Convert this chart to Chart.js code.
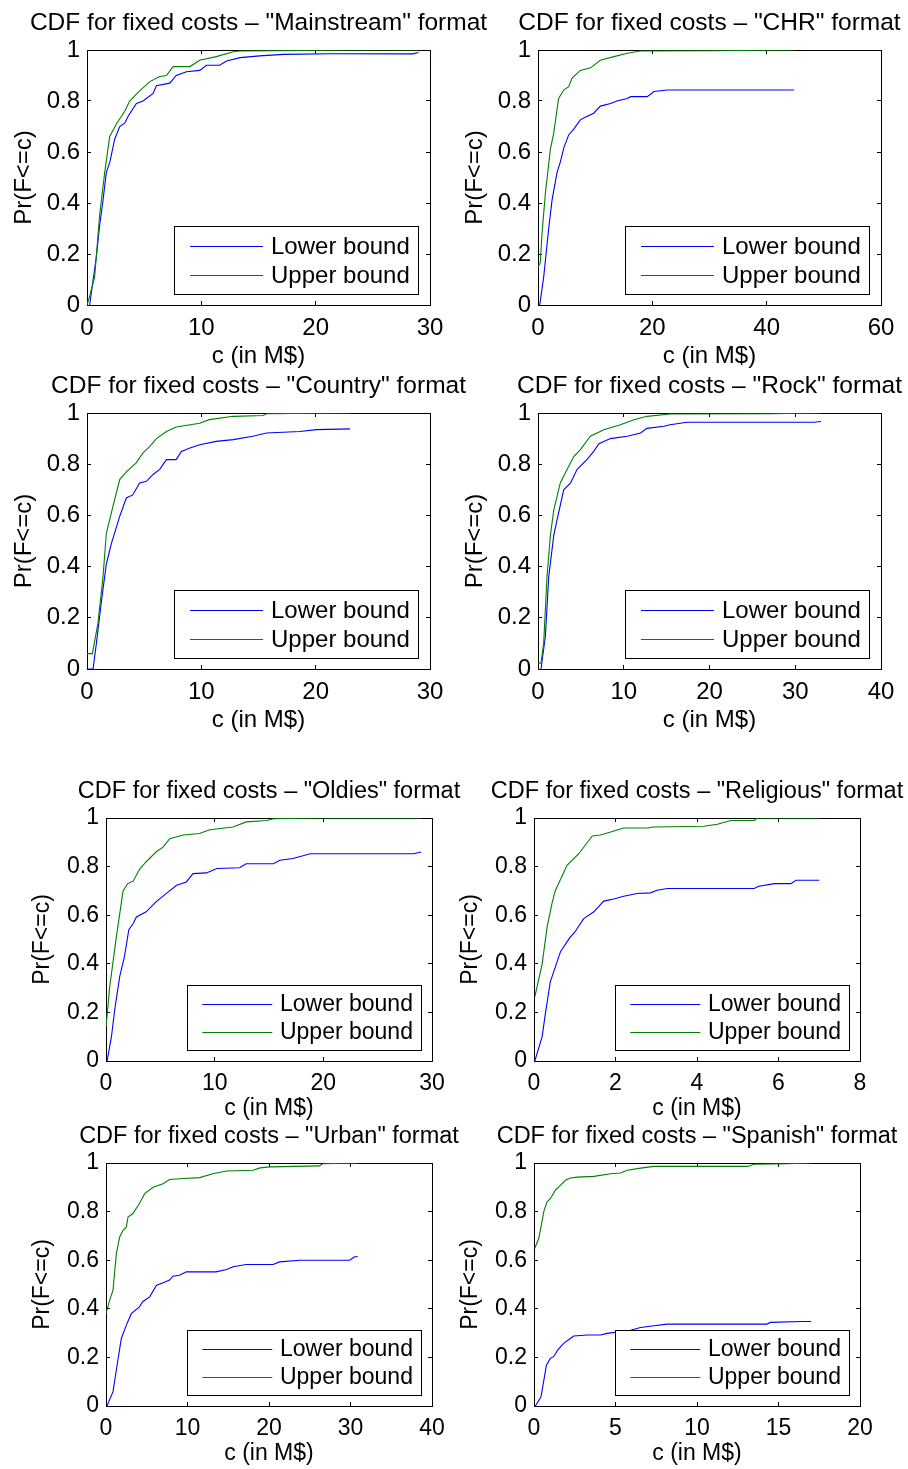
<!DOCTYPE html>
<html lang="en">
<head>
    <meta charset="UTF-8">
    <title>CDF for fixed costs</title>
    <script src="https://cdn.jsdelivr.net/npm/chart.js"></script>
    <style>
        body {
            margin: 0;
            background: #fff;
            width: 908px;
            height: 1469px;
            overflow: hidden;
            position: relative;
        }
        canvas {
            position: absolute;
        }
    </style>
</head>
<body>
<script>
    // ---- values ----
    const formats = ['Mainstream', 'CHR', 'Country', 'Rock', 'Oldies', 'Religious', 'Urban', 'Spanish'];
    const xMax = [30, 60, 30, 40, 30, 8, 40, 20];
    const xStep = [10, 20, 10, 10, 10, 2, 10, 5];
    const seriesLabels = ['Lower bound', 'Upper bound'];

    // [c, Pr(F<=c)] pairs
    const mainstreamLower = [[0.23,0],[0.82,0.19],[1.1,0.31],[1.4,0.41],[1.69,0.52],[2.0,0.56],[2.42,0.65],[2.86,0.70],[3.3,0.713],[3.6,0.74],[4.32,0.79],[4.9,0.80],[5.78,0.83],[6.07,0.86],[7.24,0.87],[7.8,0.90],[8.7,0.915],[9.86,0.92],[10.45,0.94],[11.6,0.94],[12.2,0.957],[13.4,0.97],[15.1,0.977],[17.2,0.983],[21.5,0.985],[28.5,0.985],[29,0.99]];
    const mainstreamUpper = [[0,0],[0.23,0.034],[0.67,0.11],[1.1,0.35],[1.55,0.52],[1.98,0.66],[2.57,0.71],[3.3,0.76],[3.73,0.80],[4.6,0.84],[5.5,0.876],[6.36,0.896],[6.95,0.90],[7.53,0.935],[9,0.935],[9.86,0.96],[11.3,0.974],[12.8,0.993],[13.4,0.996],[24.2,1.0],[29,1.0]];
    const chrLower = [[0.3,0],[1.0,0.11],[1.87,0.30],[2.45,0.41],[3.33,0.52],[3.9,0.56],[4.5,0.615],[5.37,0.667],[6.25,0.69],[7.4,0.726],[8.6,0.74],[9.75,0.752],[10.9,0.78],[12.7,0.79],[13.8,0.80],[15.6,0.81],[16.2,0.817],[19.1,0.817],[20.3,0.837],[22.6,0.843],[44.8,0.843]];
    const chrUpper = [[0,0.15],[0.4,0.165],[0.7,0.28],[1.3,0.44],[2.16,0.61],[2.75,0.674],[3.6,0.81],[4.5,0.843],[5.37,0.856],[5.96,0.89],[7.4,0.92],[9.2,0.93],[10.9,0.96],[13.3,0.974],[15.6,0.987],[17.9,0.996],[30.8,0.997],[44.8,1.0]];
    const countryLower = [[0,0],[0.53,0],[0.82,0.10],[1.25,0.26],[1.69,0.41],[2.13,0.49],[2.86,0.596],[3.44,0.668],[4.0,0.68],[4.6,0.727],[5.2,0.733],[5.78,0.76],[6.36,0.78],[6.95,0.818],[7.8,0.818],[8.26,0.85],[9.0,0.863],[9.86,0.876],[11.3,0.889],[12.8,0.896],[14.5,0.909],[15.7,0.922],[18.6,0.928],[20.1,0.935],[23,0.938]];
    const countryUpper = [[0,0.06],[0.47,0.06],[0.96,0.18],[1.4,0.36],[1.69,0.53],[2.13,0.61],[2.86,0.74],[3.44,0.77],[4.3,0.805],[4.9,0.844],[5.5,0.87],[6.07,0.90],[6.95,0.928],[7.8,0.945],[9.86,0.96],[10.7,0.974],[12.8,0.987],[15.4,0.99],[15.7,0.997],[23,1.0]];
    const rockLower = [[0.35,0],[0.86,0.128],[1.25,0.36],[1.83,0.52],[2.2,0.58],[3.0,0.70],[3.8,0.727],[4.56,0.78],[5.7,0.818],[6.5,0.85],[7.1,0.88],[8.45,0.90],[10.4,0.909],[11.96,0.922],[12.7,0.94],[14.7,0.948],[15.4,0.954],[17.4,0.964],[32.2,0.964],[33,0.967]];
    const rockUpper = [[0,0.023],[0.35,0.023],[0.66,0.10],[1.05,0.36],[1.44,0.52],[1.83,0.62],[2.6,0.727],[3.4,0.78],[4.17,0.83],[4.95,0.857],[6.1,0.909],[7.67,0.935],[9.6,0.954],[11.2,0.974],[12.7,0.987],[15.4,0.996],[27.1,0.997],[33,1.0]];
    const oldiesLower = [[0.1,0],[0.5,0.1],[0.8,0.21],[1.26,0.347],[1.7,0.43],[2.1,0.54],[2.5,0.566],[2.8,0.593],[3.7,0.614],[4.6,0.655],[5.56,0.69],[6.5,0.723],[7.4,0.737],[8.0,0.771],[9.24,0.774],[10.2,0.792],[12.3,0.795],[12.9,0.812],[15.4,0.812],[16.0,0.826],[17.2,0.833],[18.8,0.853],[28.3,0.853],[29,0.86]];
    const oldiesUpper = [[0,0.14],[0.34,0.305],[0.95,0.51],[1.57,0.70],[2.0,0.73],[2.5,0.74],[3.1,0.79],[3.7,0.82],[4.6,0.86],[5.25,0.88],[5.86,0.915],[7.1,0.93],[8.6,0.936],[9.55,0.952],[11.7,0.963],[12.9,0.984],[14.8,0.99],[15.4,0.997],[19.7,1.0],[29,1.0]];
    const religiousLower = [[0.02,0],[0.2,0.1],[0.28,0.196],[0.4,0.326],[0.57,0.41],[0.65,0.45],[0.81,0.49],[0.89,0.51],[1.0,0.53],[1.22,0.586],[1.47,0.614],[1.71,0.658],[1.96,0.667],[2.2,0.678],[2.53,0.689],[2.86,0.692],[3.02,0.703],[3.27,0.71],[5.4,0.71],[5.52,0.719],[5.9,0.73],[6.3,0.73],[6.43,0.744],[7.0,0.744]];
    const religiousUpper = [[0.02,0.264],[0.2,0.40],[0.32,0.55],[0.44,0.648],[0.52,0.70],[0.81,0.805],[1.1,0.853],[1.43,0.926],[1.63,0.93],[1.88,0.942],[2.2,0.959],[2.78,0.959],[2.94,0.963],[4.17,0.966],[4.5,0.974],[4.83,0.99],[5.4,0.99],[5.48,1.0],[7.0,1.0]];
    const urbanLower = [[0.12,0],[0.86,0.059],[1.27,0.148],[1.88,0.278],[2.5,0.333],[3.1,0.38],[4.1,0.408],[4.5,0.429],[5.36,0.449],[6.2,0.497],[7.0,0.507],[7.8,0.518],[8.2,0.534],[9.0,0.538],[9.86,0.552],[13.5,0.552],[14.8,0.562],[15.6,0.573],[17.2,0.582],[20.5,0.582],[21.3,0.593],[23.8,0.60],[29.9,0.60],[30.5,0.614],[30.9,0.614]];
    const urbanUpper = [[0,0.38],[0.45,0.436],[0.86,0.477],[1.27,0.627],[1.68,0.696],[2.1,0.723],[2.5,0.737],[2.7,0.778],[3.3,0.792],[4.1,0.833],[4.75,0.874],[5.77,0.90],[7.0,0.915],[7.8,0.932],[9.5,0.936],[11.5,0.94],[13.1,0.956],[14.8,0.967],[18.05,0.97],[18.9,0.98],[20.1,0.984],[26.2,0.988],[26.6,0.997],[30.9,1.0]];
    const spanishLower = [[0.08,0],[0.43,0.038],[0.64,0.12],[0.76,0.168],[1.0,0.196],[1.2,0.203],[1.45,0.23],[1.82,0.258],[2.23,0.278],[2.44,0.288],[3.26,0.292],[4.08,0.292],[4.49,0.299],[5.92,0.312],[6.54,0.323],[7.36,0.33],[8.18,0.337],[14.3,0.337],[14.5,0.344],[16.4,0.348],[17,0.348]];
    const spanishUpper = [[0.04,0.648],[0.29,0.689],[0.43,0.737],[0.6,0.80],[0.8,0.84],[1.0,0.853],[1.31,0.888],[1.62,0.908],[1.93,0.929],[2.23,0.938],[2.64,0.942],[3.67,0.945],[4.69,0.956],[5.3,0.959],[5.72,0.97],[6.54,0.979],[7.36,0.986],[13.1,0.986],[13.5,0.995],[15.55,0.997],[17,1.0]];

    const lowerSets = [mainstreamLower, chrLower, countryLower, rockLower, oldiesLower, religiousLower, urbanLower, spanishLower];
    const upperSets = [mainstreamUpper, chrUpper, countryUpper, rockUpper, oldiesUpper, religiousUpper, urbanUpper, spanishUpper];

    // ---- page layout: plot box [left, top, width, height] and font size per panel ----
    const plotBoxes = [
        [87, 50, 343, 255], [538, 50, 343, 255],
        [87, 413, 343, 256], [538, 413, 343, 256],
        [106, 818, 326, 243], [534, 818, 326, 243],
        [106, 1163, 326, 243], [534, 1163, 326, 243]
    ];
    const fontSizes = [24, 24, 24, 24, 23, 23, 23, 23];
    const xTitleGap = [51.5, 51.5, 51.5, 51.5, 47.5, 47.5, 47.5, 47.5];
    const SIDE = 85, TOP = 50, BOTTOM = 70;
    const FAMILY = "'Liberation Sans', Arial, Helvetica, sans-serif";

    // legend drawn inside the axes, bottom right, boxed (matlab style)
    const boxLegend = {
        id: 'boxLegend',
        afterDatasetsDraw(chart, args, opts) {
            const { ctx, chartArea } = chart;
            const s = opts.scale;
            ctx.save();
            ctx.font = opts.size + 'px ' + FAMILY;
            const tw = Math.max(...chart.data.datasets.map(d => ctx.measureText(d.label).width));
            const w = Math.round((16 + 73 + 8 + 8) * s + tw);
            const h = Math.round(68 * s);
            const x0 = Math.round(chartArea.right - 12 * s - w);
            const y0 = Math.round(chartArea.bottom - 11 * s - h);
            ctx.fillStyle = '#fff';
            ctx.fillRect(x0, y0, w, h);
            ctx.strokeStyle = '#000';
            ctx.lineWidth = 1;
            ctx.strokeRect(x0 + 0.5, y0 + 0.5, w, h);
            chart.data.datasets.forEach((d, k) => {
                const y = Math.round(y0 + (20 + 29 * k) * s);
                ctx.strokeStyle = d.borderColor;
                ctx.beginPath();
                ctx.moveTo(x0 + 16 * s, y + 0.5);
                ctx.lineTo(x0 + 89 * s, y + 0.5);
                ctx.stroke();
                ctx.fillStyle = '#000';
                ctx.textAlign = 'left';
                ctx.textBaseline = 'middle';
                ctx.fillText(d.label, x0 + 97 * s, y + 1);
            });
            ctx.restore();
        }
    };

    function toPoints(pairs) {
        return pairs.map(p => ({ x: p[0], y: p[1] }));
    }

    function sideScale(position, max, step, size) {
        // axis that only draws the box edge and inward tick marks
        return {
            type: 'linear',
            position: position,
            min: 0,
            max: max,
            ticks: { stepSize: step, display: false },
            grid: { drawOnChartArea: false, tickLength: -4, color: '#000', lineWidth: 1 },
            border: { color: '#000', width: 1 },
            afterFit: s => { if (s.isHorizontal()) s.height = size; else s.width = size; }
        };
    }

    function makeChart(i) {
        const box = plotBoxes[i];
        const fs = fontSizes[i];
        const scale = fs / 24;
        const font = { family: FAMILY, size: fs, weight: 'normal' };
        const titleFont = { family: FAMILY, size: fs + 0.5, weight: 'normal' };

        const canvas = document.createElement('canvas');
        canvas.width = box[2] + 2 * SIDE;
        canvas.height = box[3] + TOP + BOTTOM;
        canvas.style.left = (box[0] - SIDE) + 'px';
        canvas.style.top = (box[1] - TOP) + 'px';
        document.body.appendChild(canvas);

        new Chart(canvas, {
            type: 'line',
            data: {
                datasets: [
                    {
                        label: seriesLabels[0],
                        data: toPoints(lowerSets[i]),
                        borderColor: '#0000ff',
                        borderWidth: 1.1,
                        pointRadius: 0,
                        tension: 0,
                        order: 1
                    },
                    {
                        label: seriesLabels[1],
                        data: toPoints(upperSets[i]),
                        borderColor: '#008000',
                        borderWidth: 1.1,
                        pointRadius: 0,
                        tension: 0,
                        order: 0
                    }
                ]
            },
            options: {
                responsive: false,
                animation: false,
                layout: { padding: 0 },
                plugins: {
                    legend: { display: false },
                    tooltip: { enabled: false },
                    title: {
                        display: true,
                        text: 'CDF for fixed costs \u2013 "' + formats[i] + '" format',
                        color: '#000',
                        font: titleFont,
                        padding: { top: TOP - 26.5 - titleFont.size * 0.6, bottom: 26.5 - titleFont.size * 0.6 }
                    },
                    boxLegend: { scale: scale, size: fs }
                },
                scales: {
                    x: {
                        type: 'linear',
                        position: 'bottom',
                        min: 0,
                        max: xMax[i],
                        ticks: { stepSize: xStep[i], color: '#000', font: font, padding: 13, maxRotation: 0 },
                        grid: { drawOnChartArea: false, tickLength: -4, color: '#000', lineWidth: 1 },
                        border: { color: '#000', width: 1 },
                        title: {
                            display: true, text: 'c (in M$)', color: '#000', font: font,
                            padding: { top: 0, bottom: BOTTOM - xTitleGap[i] - fs * 0.6 }
                        },
                        afterFit: s => { s.height = BOTTOM; }
                    },
                    x2: sideScale('top', xMax[i], xStep[i], 0),
                    y: {
                        type: 'linear',
                        position: 'left',
                        min: 0,
                        max: 1,
                        ticks: {
                            stepSize: 0.2, color: '#000', font: font, padding: 11,
                            callback: v => String(Math.round(v * 10) / 10)
                        },
                        grid: { drawOnChartArea: false, tickLength: -4, color: '#000', lineWidth: 1 },
                        border: { color: '#000', width: 1 },
                        title: { display: true, text: 'Pr(F<=c)', color: '#000', font: font, padding: { top: 7.6, bottom: 0 } },
                        afterFit: s => { s.width = SIDE; }
                    },
                    y2: sideScale('right', 1, 0.2, SIDE)
                }
            },
            plugins: [boxLegend]
        });
    }

    for (let i = 0; i < formats.length; i++) {
        makeChart(i);
    }
</script>
</body>
</html>
